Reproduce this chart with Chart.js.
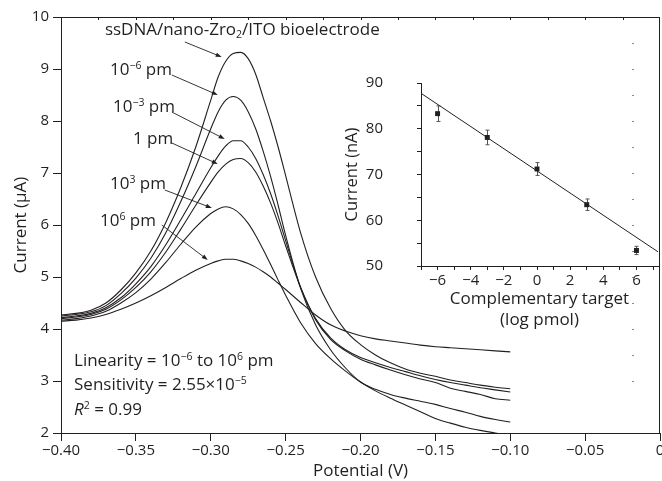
<!DOCTYPE html>
<html>
<head>
<meta charset="utf-8">
<script src="https://cdn.jsdelivr.net/npm/chart.js@4.4.1/dist/chart.umd.min.js"></script>
<style>
  html, body { margin: 0; padding: 0; background: #fff; }
  #wrap { position: relative; width: 662px; height: 481px; }
  #main { position: absolute; left: 0; top: 0; }
  #inset { position: absolute; left: 330px; top: 40px; }
</style>
</head>
<body>
<div id="wrap">
  <canvas id="main" width="662" height="481"></canvas>
  <canvas id="inset" width="332" height="300"></canvas>
</div>
<script>
// potential axis (V), shared by all DPV curves
const potential = [-0.40, -0.39, -0.38, -0.37, -0.36, -0.35, -0.34, -0.33, -0.32, -0.31, -0.30, -0.295,
  -0.29, -0.285, -0.28, -0.275, -0.27, -0.265, -0.26, -0.255, -0.25, -0.24, -0.23, -0.22,
  -0.21, -0.20, -0.19, -0.18, -0.17, -0.16, -0.15, -0.14, -0.13, -0.12, -0.11, -0.10];

// current (uA) per curve
const bioelectrode = [4.27, 4.3, 4.36, 4.5, 4.75, 5.08, 5.5, 6.05, 6.72, 7.5, 8.4, 8.85,
  9.15, 9.3, 9.32, 9.2, 8.9, 8.45, 8.0, 7.5, 6.95, 5.85, 5.0, 4.4,
  3.97, 3.7, 3.5, 3.35, 3.23, 3.15, 3.09, 3.02, 2.97, 2.92, 2.88, 2.85];
const target1em6 = [4.25, 4.28, 4.33, 4.45, 4.68, 4.98, 5.36, 5.85, 6.45, 7.12, 7.85, 8.18,
  8.4, 8.47, 8.4, 8.18, 7.85, 7.42, 6.93, 6.38, 5.8, 4.78, 4.08, 3.6,
  3.25, 2.98, 2.84, 2.74, 2.67, 2.61, 2.55, 2.47, 2.4, 2.32, 2.26, 2.21];
const target1em3 = [4.22, 4.25, 4.3, 4.41, 4.6, 4.87, 5.2, 5.62, 6.1, 6.6, 7.1, 7.33,
  7.52, 7.62, 7.62, 7.5, 7.28, 6.97, 6.6, 6.17, 5.7, 4.8, 4.18, 3.8,
  3.58, 3.42, 3.31, 3.21, 3.12, 3.04, 2.97, 2.86, 2.8, 2.74, 2.66, 2.63];
const target1 = [4.2, 4.23, 4.28, 4.38, 4.56, 4.8, 5.1, 5.48, 5.92, 6.38, 6.82, 7.02,
  7.17, 7.26, 7.28, 7.2, 7.02, 6.75, 6.42, 6.03, 5.6, 4.8, 4.2, 3.83,
  3.6, 3.45, 3.35, 3.26, 3.18, 3.1, 3.03, 2.97, 2.92, 2.87, 2.83, 2.79];
const target1e3 = [4.17, 4.2, 4.25, 4.34, 4.5, 4.7, 4.96, 5.28, 5.63, 5.96, 6.22, 6.31,
  6.35, 6.31, 6.2, 6.03, 5.8, 5.53, 5.24, 4.94, 4.65, 4.12, 3.72, 3.43,
  3.19, 2.98, 2.81, 2.67, 2.54, 2.41, 2.28, 2.19, 2.11, 2.05, 2.0, 1.95];
const target1e6 = [4.15, 4.17, 4.21, 4.28, 4.38, 4.5, 4.64, 4.8, 4.97, 5.13, 5.26, 5.31,
  5.34, 5.34, 5.31, 5.26, 5.19, 5.1, 5.0, 4.88, 4.76, 4.51, 4.27, 4.08,
  3.96, 3.87, 3.81, 3.77, 3.73, 3.69, 3.66, 3.64, 3.62, 3.6, 3.58, 3.56];

// inset: calibration
const targetLog = [-6, -3, 0, 3, 6];
const insetCurrent = [83.3, 78.1, 71.2, 63.4, 53.4];
const insetError = [1.7, 1.6, 1.4, 1.25, 0.9];
const fitX = [-7, 7.3];
const fitY = [87.75, 53.1];

// faint marks near the right edge of the main plot
const sideMarkPotential = -0.018;
const sideMarkLevels = [3, 3.5, 4, 4.5, 5, 5.5, 6, 6.5, 7, 7.5, 8, 8.5, 9, 9.5];

const INK = '#231f20';
const FONT = "'Open Sans', sans-serif";
Chart.defaults.font.family = FONT;
Chart.defaults.color = INK;

function signed(v, digits) {
  if (Math.abs(v) < 1e-9) return '0';
  return (v < 0 ? '\u2212' : '') + Math.abs(v).toFixed(digits);
}

function drawRich(ctx, parts, x, y, size) {
  let cx = x;
  parts.forEach(([t, kind]) => {
    let s = size, dy = 0, style = '';
    if (kind === 'sup') { s = size * 0.62; dy = -size * 0.38; }
    if (kind === 'sub') { s = size * 0.62; dy = size * 0.2; }
    if (kind === 'it') style = 'italic ';
    ctx.font = style + s + 'px ' + FONT;
    ctx.fillText(t, cx, y + dy);
    cx += ctx.measureText(t).width;
  });
}

const curveLabels = [
  { parts: [['ssDNA/nano-Zro'], ['2', 'sub'], ['/ITO bioelectrode']], at: [-0.3707, 9.654], from: [-0.3173, 9.519], to: [-0.2927, 9.231] },
  { parts: [['10'], ['\u22126', 'sup'], [' pm']], at: [-0.3673, 8.885], from: [-0.326, 8.885], to: [-0.2953, 8.5] },
  { parts: [['10'], ['\u22123', 'sup'], [' pm']], at: [-0.3653, 8.173], from: [-0.326, 8.173], to: [-0.2907, 7.654] },
  { parts: [['1 pm']], at: [-0.352, 7.558], from: [-0.326, 7.577], to: [-0.2953, 7.173] },
  { parts: [['10'], ['3', 'sup'], [' pm']], at: [-0.3673, 6.692], from: [-0.3307, 6.673], to: [-0.2993, 6.327] },
  { parts: [['10'], ['6', 'sup'], [' pm']], at: [-0.374, 5.981], from: [-0.3327, 6.0], to: [-0.302, 5.327] }
];
const statsLines = [
  { parts: [['Linearity = 10'], ['\u22126', 'sup'], [' to 10'], ['6', 'sup'], [' pm']], at: [-0.3913, 3.288] },
  { parts: [['Sensitivity = 2.55\u00d710'], ['\u22125', 'sup']], at: [-0.3913, 2.827] },
  { parts: [['R', 'it'], ['2', 'sup'], [' = 0.99']], at: [-0.3913, 2.346] }
];

const framePlugin = {
  id: 'frame',
  afterDraw(chart) {
    const { ctx, chartArea: a, scales: { x, y } } = chart;
    ctx.save();
    ctx.strokeStyle = INK;
    ctx.lineWidth = 1;
    ctx.beginPath();
    ctx.moveTo(a.left, a.top + 0.5);
    ctx.lineTo(a.right, a.top + 0.5);
    ctx.moveTo(a.right - 0.5, a.top);
    ctx.lineTo(a.right - 0.5, a.bottom);
    for (let v = -0.375; v < -0.01; v += 0.025) {
      const px = Math.round(x.getPixelForValue(v)) + 0.5;
      ctx.moveTo(px, a.top);
      ctx.lineTo(px, a.top + 3);
    }
    ctx.stroke();
    ctx.strokeStyle = '#8a8a8a';
    ctx.beginPath();
    const mx = Math.round(x.getPixelForValue(sideMarkPotential));
    sideMarkLevels.forEach(v => {
      const py = Math.round(y.getPixelForValue(v)) + 0.5;
      ctx.moveTo(mx - 1, py);
      ctx.lineTo(mx + 1, py);
    });
    ctx.stroke();
    ctx.restore();
  }
};

const annotationPlugin = {
  id: 'annotations',
  afterDatasetsDraw(chart) {
    const { ctx, scales: { x, y } } = chart;
    const px = p => [x.getPixelForValue(p[0]), y.getPixelForValue(p[1])];
    ctx.save();
    ctx.fillStyle = INK;
    ctx.strokeStyle = INK;
    ctx.textBaseline = 'alphabetic';
    ctx.textAlign = 'left';
    curveLabels.forEach(l => {
      const [tx, ty] = px(l.at);
      drawRich(ctx, l.parts, tx, ty, 17);
      const [x0, y0] = px(l.from);
      const [x1, y1] = px(l.to);
      const ang = Math.atan2(y1 - y0, x1 - x0);
      ctx.lineWidth = 0.9;
      ctx.beginPath();
      ctx.moveTo(x0, y0);
      ctx.lineTo(x1 - 4 * Math.cos(ang), y1 - 4 * Math.sin(ang));
      ctx.stroke();
      ctx.beginPath();
      ctx.moveTo(x1, y1);
      ctx.lineTo(x1 - 6 * Math.cos(ang) + 2.2 * Math.sin(ang), y1 - 6 * Math.sin(ang) - 2.2 * Math.cos(ang));
      ctx.lineTo(x1 - 6 * Math.cos(ang) - 2.2 * Math.sin(ang), y1 - 6 * Math.sin(ang) + 2.2 * Math.cos(ang));
      ctx.closePath();
      ctx.fill();
    });
    statsLines.forEach(l => {
      const [tx, ty] = px(l.at);
      drawRich(ctx, l.parts, tx, ty, 17);
    });
    ctx.restore();
  }
};

const curves = [bioelectrode, target1em6, target1em3, target1, target1e3, target1e6];
const curveNames = ['ssDNA/nano-ZrO2/ITO', '1e-6 pm', '1e-3 pm', '1 pm', '1e3 pm', '1e6 pm'];

new Chart(document.getElementById('main'), {
  type: 'line',
  data: {
    datasets: curves.map((vals, k) => ({
      label: curveNames[k],
      data: potential.map((v, i) => ({ x: v, y: vals[i] })),
      borderColor: INK,
      borderWidth: 1.1,
      pointRadius: 0,
      cubicInterpolationMode: 'monotone',
      fill: false
    }))
  },
  options: {
    responsive: false,
    animation: false,
    devicePixelRatio: 1,
    layout: { padding: { top: 17, right: 2, left: 0, bottom: 0 } },
    plugins: { legend: { display: false }, tooltip: { enabled: false } },
    scales: {
      x: {
        type: 'linear', min: -0.4, max: 0,
        ticks: { stepSize: 0.05, autoSkip: false, maxRotation: 0, padding: 1, font: { size: 15 }, callback: v => signed(v, 2) },
        grid: { drawOnChartArea: false, tickLength: 8, tickColor: INK },
        border: { color: INK, width: 1 },
        title: { display: true, text: 'Potential (V)', font: { size: 17 }, padding: { top: 0, bottom: 0 } },
        afterFit: s => { s.height = 48; s.paddingLeft = 0; s.paddingRight = 0; }
      },
      y: {
        min: 2, max: 10,
        ticks: { stepSize: 1, padding: 4, font: { size: 15 } },
        grid: { drawOnChartArea: false, tickLength: 8, tickColor: INK },
        border: { color: INK, width: 1 },
        title: { display: true, text: 'Current (\u03bcA)', font: { size: 17 }, padding: { top: 11, bottom: 0 } },
        afterFit: s => { s.width = 61; }
      }
    }
  },
  plugins: [framePlugin, annotationPlugin]
});

const errorBarPlugin = {
  id: 'errorBars',
  beforeDatasetsDraw(chart) {
    const { ctx, scales: { x, y } } = chart;
    ctx.save();
    ctx.strokeStyle = '#555';
    ctx.lineWidth = 1;
    ctx.beginPath();
    targetLog.forEach((v, i) => {
      const px = Math.round(x.getPixelForValue(v)) + 0.5;
      const top = y.getPixelForValue(insetCurrent[i] + insetError[i]);
      const bot = y.getPixelForValue(insetCurrent[i] - insetError[i]);
      ctx.moveTo(px, top); ctx.lineTo(px, bot);
      ctx.moveTo(px - 2, top); ctx.lineTo(px + 2, top);
      ctx.moveTo(px - 2, bot); ctx.lineTo(px + 2, bot);
    });
    ctx.stroke();
    ctx.restore();
  }
};

new Chart(document.getElementById('inset'), {
  type: 'scatter',
  data: {
    datasets: [
      {
        label: 'Current',
        data: targetLog.map((v, i) => ({ x: v, y: insetCurrent[i] })),
        pointStyle: 'rect', pointRadius: 3.5,
        backgroundColor: INK, borderColor: INK, borderWidth: 0
      },
      {
        label: 'Fit',
        data: fitX.map((v, i) => ({ x: v, y: fitY[i] })),
        showLine: true, pointRadius: 0,
        borderColor: INK, borderWidth: 1
      }
    ]
  },
  options: {
    responsive: false,
    animation: false,
    devicePixelRatio: 1,
    layout: { padding: { top: 30, right: 2, left: 0, bottom: 0 } },
    plugins: { legend: { display: false }, tooltip: { enabled: false } },
    scales: {
      x: {
        type: 'linear', min: -7, max: 7.3,
        ticks: { stepSize: 1, includeBounds: false, autoSkip: false, maxRotation: 0, padding: 2, font: { size: 15 },
          callback: v => (v % 2 === 0 && Math.abs(v) < 7) ? signed(v, 0) : '' },
        grid: { drawOnChartArea: false, tickLength: 4, tickColor: INK },
        border: { color: INK, width: 1 },
        title: { display: true, text: ['Complementary target', '(log pmol)'], font: { size: 17, lineHeight: 1.2 }, padding: { top: 0, bottom: 10 } },
        afterFit: s => { s.height = 74; s.paddingLeft = 0; s.paddingRight = 0; }
      },
      y: {
        min: 50, max: 90,
        ticks: { stepSize: 5, padding: 34, font: { size: 15 }, callback: v => v % 10 === 0 ? String(v) : '' },
        grid: { drawOnChartArea: false, tickLength: 4, tickColor: INK },
        border: { color: INK, width: 1 },
        title: { display: true, text: 'Current (nA)', font: { size: 16.5 }, padding: { top: 12, bottom: 0 } },
        afterFit: s => { s.width = 91; }
      }
    }
  },
  plugins: [errorBarPlugin]
});
</script>
</body>
</html>
